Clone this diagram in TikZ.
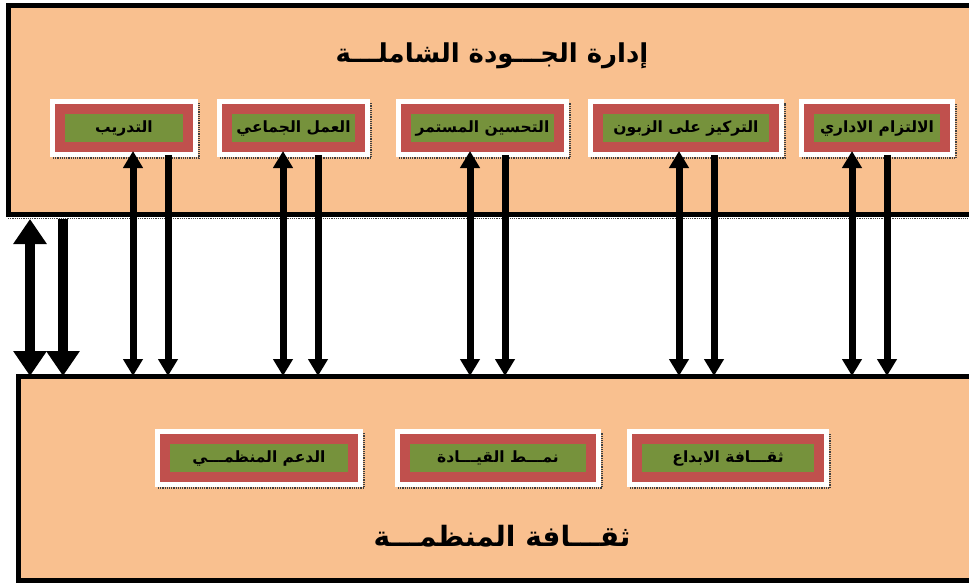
\documentclass[tikz,border=0pt]{standalone}
\usepackage{fontspec}
\newfontfamily\arabicfont[Script=Arabic]{DejaVu Sans}
\TeXXeTstate=1
\usetikzlibrary{arrows.meta}
\definecolor{peach}{HTML}{F9C08F}
\definecolor{boxred}{HTML}{C0504D}
\definecolor{boxgreen}{HTML}{76923C}
\newcommand{\artext}[1]{\beginR #1\endR}

\begin{document}
\begin{tikzpicture}[x=1pt,y=-1pt,
	bigbox/.style={draw=black,fill=peach,line width=5pt,inner sep=0pt,outer sep=0pt},
	item/.style={draw=boxred,fill=boxgreen,line width=10pt,preaction={draw=white,line width=20pt},
		outer sep=10pt,inner sep=0pt,minimum height=38pt,font=\arabicfont\bfseries\fontsize{15.5}{18}\selectfont},
	heading/.style={font=\arabicfont\bfseries\fontsize{26}{30}\selectfont},
	shadowline/.style={black!75,densely dotted,line width=1.2pt},
	thin/.style={line width=7pt,-{Triangle[width=19pt,length=17pt]}},
	thinboth/.style={line width=7pt,{Triangle[width=19pt,length=17pt]}-{Triangle[width=19pt,length=17pt]}},
	thick/.style={line width=10pt,-{Triangle[width=32pt,length=25pt]}},
	thickboth/.style={line width=10pt,{Triangle[width=32pt,length=25pt]}-{Triangle[width=32pt,length=25pt]}}]
	\fill[white] (0,0) rectangle (969,584);
	\useasboundingbox (0,0) rectangle (969,584);
	%%% the two frames
	\path (491.5,109.75) node[bigbox,minimum width=967pt,minimum height=208.5pt] (quality) {};
	\path (496.75,478) node[bigbox,minimum width=956.5pt,minimum height=204pt] (culture) {};
	\draw[shadowline] ([yshift=-4.5pt]quality.south west)--([yshift=-4.5pt]quality.south east);
	\path (492,56) node[heading] (qualitytitle) {\artext{إدارة الجـــودة الشاملـــة}};
	\path (502,536) node[heading,font=\arabicfont\bfseries\fontsize{28}{32}\selectfont] (culturetitle) {\artext{ثقـــافة المنظمـــة}};
	%%% top row
	\path (124,128) node[item,minimum width=128pt] (t1) {\artext{التدريب}};
	\path (293.5,128) node[item,minimum width=133pt] (t2) {\artext{العمل الجماعي}};
	\path (482.5,128) node[item,minimum width=153pt] (t3) {\artext{التحسين المستمر}};
	\path (686,128) node[item,minimum width=176pt] (t4) {\artext{التركيز على الزبون}};
	\path (877,128) node[item,minimum width=136pt] (t5) {\artext{الالتزام الاداري}};
	%%% bottom row
	\path (259,458) node[item,minimum width=188pt] (b1) {\artext{الدعم المنظمـــي}};
	\path (498,458) node[item,minimum width=186pt] (b2) {\artext{نمـــط القيـــادة}};
	\path (728,458) node[item,minimum width=182pt] (b3) {\artext{ثقـــافة الابداع}};
	\foreach \n in {t1,t2,t3,t4,t5,b1,b2,b3}
		\draw[shadowline] ([xshift=3pt,yshift=-1pt]\n.south west)-|([xshift=1pt,yshift=-4pt]\n.north east);
	%%% arrows
	\foreach \n/\a/\b in {t1/9/44,t2/-10.5/24.5,t3/-12.5/22.5,t4/-7/28,t5/-25/10}{
		\draw[thinboth] ([xshift=\a pt,yshift=6pt]\n.south)--([xshift=\a pt]\n.south |- culture.north);
		\draw[thin] ([xshift=\b pt,yshift=2pt]\n.south)--([xshift=\b pt]\n.south |- culture.north);
	}
	\draw[thickboth] ([xshift=22pt,yshift=-5pt]quality.south west)--([xshift=22pt]quality.south west |- culture.north);
	\draw[thick] ([xshift=55pt,yshift=-5pt]quality.south west)--([xshift=55pt]quality.south west |- culture.north);
\end{tikzpicture}
\end{document}
